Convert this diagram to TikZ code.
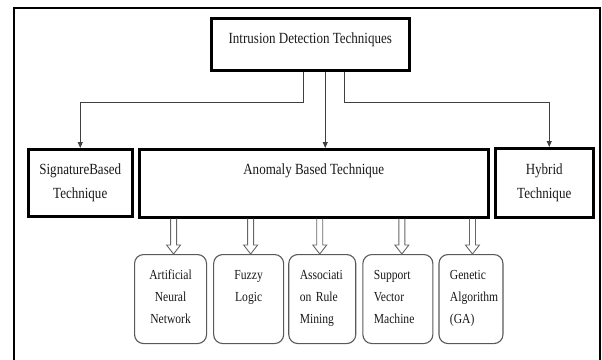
\documentclass[tikz,border=0pt]{standalone}
\usepackage{fontspec}
\setmainfont{Liberation Serif}
\newfontfamily\narrowserif[FakeStretch=0.84]{Liberation Serif}
\usetikzlibrary{calc,positioning,arrows.meta}

\newcommand{\hollowarrow}[2]{%
	\draw[hollow] ($(anom.south -| #1.north)+(#2-3,0)$) -- ($(#1.north)+(#2-3,-9)$)
		-- ($(#1.north)+(#2-7,-9)$) -- ($(#1.north)+(#2,0)$) -- ($(#1.north)+(#2+7,-9)$)
		-- ($(#1.north)+(#2+3,-9)$) -- ($(anom.south -| #1.north)+(#2+3,0)$);}

\begin{document}
\begin{tikzpicture}[x=1pt, y=-1pt,
	mainbox/.style = {draw=black, line width=2.5pt, anchor=north west, inner sep=0pt,
		align=center, text=black!90, font=\narrowserif\fontsize{15.5}{24}\selectfont},
	method/.style = {draw=black!65, line width=1.1pt, rounded corners=9pt, inner ysep=0pt,
		inner xsep=11pt, minimum height=89pt, text height=25pt, text depth=64pt,
		text=black!90, font=\narrowserif\fontsize{13.8}{22}\selectfont},
	conn/.style = {draw=black!75, line width=0.9pt, -{Triangle[length=6pt,width=5pt]}},
	hollow/.style = {draw=black!60, line width=0.9pt}]

\clip (0,0) rectangle (602,359);
\draw[line width=2pt] (14,365) -- (14,7.5) -- (600,7.5) -- (600,365);

\node[mainbox, minimum width=198pt, minimum height=52pt, text height=25.7pt, text depth=26.3pt]
	(ids) at (210,17) {Intrusion Detection Techniques};
\node[mainbox, minimum width=104pt, minimum height=67pt, text height=49pt, text depth=18pt]
	(sig) at (27,148) {SignatureBased\\Technique};
\node[mainbox, minimum width=349pt, minimum height=68pt, text height=25pt, text depth=43pt]
	(anom) at (138,148) {Anomaly Based Technique};
\node[mainbox, minimum width=98pt, minimum height=69pt, text height=50pt, text depth=19pt]
	(hyb) at (494,147) {Hybrid\\Technique};

\node[method, anchor=north west, text width=50pt, align=center] (ann) at (134,254) {Artificial\\Neural\\Network};
\node[method, anchor=west, text width=48pt, align=center, right=6pt of ann] (fuzzy) {Fuzzy\\Logic};
\node[method, anchor=west, text width=45pt, align=left, right=4pt of fuzzy] (arm) {Associati\\on Rule\\Mining};
\node[method, anchor=west, text width=48pt, align=left, right=6pt of arm] (svm) {Support\\Vector\\Machine};
\node[method, anchor=west, text width=42pt, align=left, right=5pt of svm] (ga) {Genetic\\Algorithm\\(GA)};

\draw[conn] ([xshift=-7pt]ids.south) -- ++(0,30.5) -| (sig.north);
\draw[conn] ([xshift=15pt]ids.south) -- ([xshift=15pt]ids.south |- anom.north);
\draw[conn] ([xshift=34pt]ids.south) -- ++(0,30.5) -| ([xshift=5pt]hyb.north);

\hollowarrow{ann}{3}
\hollowarrow{fuzzy}{2}
\hollowarrow{arm}{-2.5}
\hollowarrow{svm}{4}
\hollowarrow{ga}{1.5}
\end{tikzpicture}
\end{document}
